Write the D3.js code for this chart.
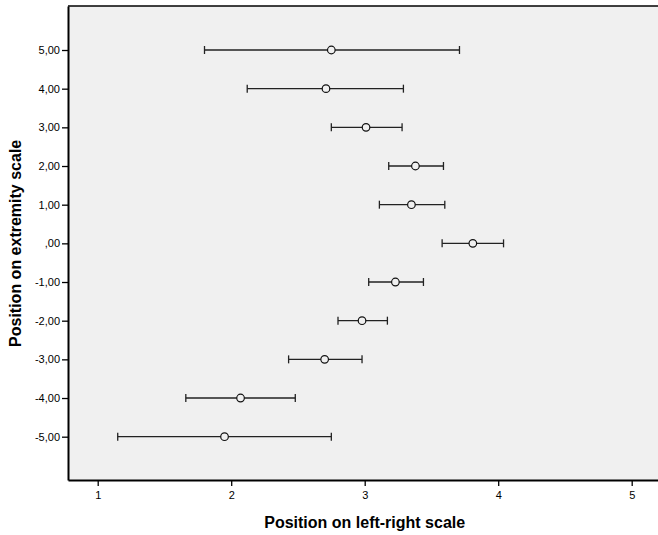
<!DOCTYPE html>
<html>
<head>
<meta charset="utf-8">
<script src="https://cdn.jsdelivr.net/npm/d3@7"></script>
<style>
  body { margin: 0; background: #fff; }
  #chart { width: 658px; height: 535px; }
  text { font-family: Arial, "Liberation Sans", sans-serif; }
</style>
</head>
<body>
<div id="chart"></div>
<script>
// extremity categories (y) and left-right position (x): mean with error bar
var extremity = [5, 4, 3, 2, 1, 0, -1, -2, -3, -4, -5];
var means  = [2.75, 2.71, 3.01, 3.38, 3.35, 3.81, 3.23, 2.98, 2.70, 2.07, 1.95];
var lower  = [1.80, 2.12, 2.75, 3.18, 3.11, 3.58, 3.03, 2.80, 2.43, 1.66, 1.15];
var upper  = [3.71, 3.29, 3.28, 3.59, 3.60, 4.04, 3.44, 3.17, 2.98, 2.48, 2.75];
var xTicks = [1, 2, 3, 4, 5];
var yTicks = [5, 4, 3, 2, 1, 0, -1, -2, -3, -4, -5];
var yTickLabels = ['5,00', '4,00', '3,00', '2,00', '1,00', ',00', '-1,00', '-2,00', '-3,00', '-4,00', '-5,00'];

var rows = extremity.map(function (e, i) {
    return { y: e, mean: means[i], lo: lower[i], hi: upper[i] };
});

var width = 658, height = 535;
var margin = { top: 6, right: -4, bottom: 55, left: 68 };

var svg = d3.select('#chart').append('svg')
    .attr('width', width)
    .attr('height', height);

var x = d3.scaleLinear()
    .domain([0.7775, 5.227])
    .range([margin.left, width - margin.right]);

var y = d3.scaleLinear()
    .domain([-6.12, 6.138])
    .range([height - margin.bottom, margin.top]);

// plot background
svg.append('rect')
    .attr('x', margin.left)
    .attr('y', margin.top)
    .attr('width', width - margin.right - margin.left)
    .attr('height', height - margin.bottom - margin.top)
    .style('fill', '#f0f0f0');

// top border
svg.append('line')
    .attr('x1', margin.left).attr('x2', width)
    .attr('y1', margin.top).attr('y2', margin.top)
    .style('stroke', '#000').style('stroke-width', 1.5);

// axes
var xAxis = d3.axisBottom(x).tickValues(xTicks).tickSize(6).tickSizeOuter(0).tickFormat(d3.format('d'));
var yAxis = d3.axisLeft(y).tickValues(yTicks).tickSize(6).tickSizeOuter(0)
    .tickFormat(function (d, i) { return yTickLabels[i]; });

var gx = svg.append('g')
    .attr('transform', 'translate(0,' + (height - margin.bottom) + ')')
    .call(xAxis);
var gy = svg.append('g')
    .attr('transform', 'translate(' + margin.left + ',0)')
    .call(yAxis);

[gx, gy].forEach(function (g) {
    g.select('.domain').style('stroke', '#000').style('stroke-width', 2);
    g.selectAll('.tick line').style('stroke', '#000').style('stroke-width', 1.3);
    g.selectAll('.tick text')
        .style('font-size', '11px')
        .style('fill', '#000');
});
gx.selectAll('.tick text').attr('y', 11);
gy.selectAll('.tick text').attr('x', -8);

// error bars
var cap = 4;
var bars = svg.append('g').selectAll('g.bar')
    .data(rows)
    .enter().append('g')
    .attr('class', 'bar');

bars.append('line')
    .attr('x1', function (d) { return x(d.lo); })
    .attr('x2', function (d) { return x(d.hi); })
    .attr('y1', function (d) { return y(d.y); })
    .attr('y2', function (d) { return y(d.y); })
    .style('stroke', '#222').style('stroke-width', 1.3);

bars.append('line')
    .attr('x1', function (d) { return x(d.lo); })
    .attr('x2', function (d) { return x(d.lo); })
    .attr('y1', function (d) { return y(d.y) - cap; })
    .attr('y2', function (d) { return y(d.y) + cap; })
    .style('stroke', '#222').style('stroke-width', 1.3);

bars.append('line')
    .attr('x1', function (d) { return x(d.hi); })
    .attr('x2', function (d) { return x(d.hi); })
    .attr('y1', function (d) { return y(d.y) - cap; })
    .attr('y2', function (d) { return y(d.y) + cap; })
    .style('stroke', '#222').style('stroke-width', 1.3);

bars.append('circle')
    .attr('cx', function (d) { return x(d.mean); })
    .attr('cy', function (d) { return y(d.y); })
    .attr('r', 3.8)
    .style('fill', '#f0f0f0')
    .style('stroke', '#111')
    .style('stroke-width', 1.2);

// axis titles
svg.append('text')
    .attr('x', (x(1) + x(5)) / 2)
    .attr('y', 528)
    .attr('text-anchor', 'middle')
    .style('font-size', '16px')
    .style('font-weight', 'bold')
    .text('Position on left-right scale');

svg.append('text')
    .attr('transform', 'translate(21,' + y(0) + ') rotate(-90)')
    .attr('text-anchor', 'middle')
    .style('font-size', '16px')
    .style('font-weight', 'bold')
    .text('Position on extremity scale');
</script>
</body>
</html>
